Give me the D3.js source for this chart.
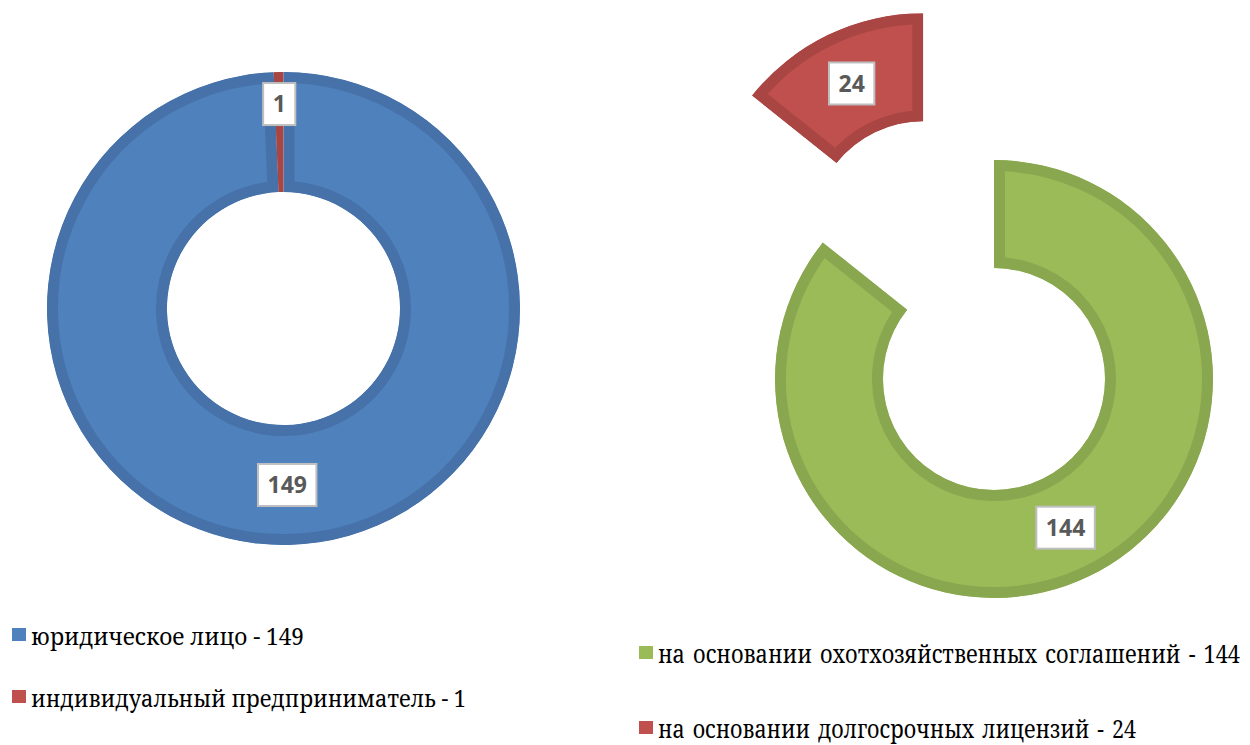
<!DOCTYPE html>
<html>
<head>
<meta charset="utf-8">
<script src="https://cdn.jsdelivr.net/npm/d3@7"></script>
<style>
  body { margin: 0; background: #ffffff; }
  svg { display: block; }
  .legend-text { font-family: "Noto Serif", "Tinos", "Times", serif; }
  .value-text { font-family: "Open Sans", sans-serif; font-weight: 700; }
</style>
</head>
<body>
<svg id="chart" width="1250" height="745"></svg>
<script>
// Hunting users by legal form
const leftCategories = ["юридическое лицо", "индивидуальный предприниматель"];
const leftValues = [149, 1];

// Hunting grounds by basis of use
const rightCategories = ["на основании охотхозяйственных соглашений", "на основании долгосрочных лицензий"];
const rightValues = [144, 24];

const palette = {
  blue:  { fill: "#4f81bd", edge: "#4672a9" },
  red:   { fill: "#c0504d", edge: "#a94643" },
  green: { fill: "#9bbb59", edge: "#89a74f" }
};

const svg = d3.select("#chart");
const defs = svg.append("defs");

function drawDonut(cfg) {
  const pie = d3.pie().sort(null).value(d => d.value)
    .startAngle(0).endAngle(2 * Math.PI);
  const items = cfg.values.map((v, i) => ({ value: v, name: cfg.categories[i], i }));
  const arcs = pie(items);
  const arc = d3.arc().innerRadius(cfg.inner).outerRadius(cfg.outer);
  const g = svg.append("g").attr("transform", `translate(${cfg.cx},${cfg.cy})`);

  // pull a slice out along its bisector
  const offsetOf = (a, i) => {
    const mid = (a.startAngle + a.endAngle) / 2;
    const off = cfg.explode[i] || 0;
    return [Math.sin(mid) * off, -Math.cos(mid) * off];
  };

  // slices: fill plus a border kept inside each slice's own outline
  arcs.forEach((a, i) => {
    const [dx, dy] = offsetOf(a, i);
    const d = arc(a);
    const id = `${cfg.id}-slice-${i}`;
    defs.append("clipPath").attr("id", id).append("path").attr("d", d);
    g.append("g")
      .attr("transform", `translate(${dx},${dy})`)
      .append("path")
      .attr("d", d)
      .attr("fill", cfg.colors[i].fill)
      .attr("stroke", cfg.colors[i].edge)
      .attr("stroke-width", cfg.border * 2)
      .attr("clip-path", `url(#${id})`);
  });

  // value labels in white boxes; thin slices get theirs near the outer rim
  arcs.forEach((a, i) => {
    const [dx, dy] = offsetOf(a, i);
    const span = a.endAngle - a.startAngle;
    const mid = (a.startAngle + a.endAngle) / 2;
    let px, py;
    if (span < 0.1) {
      const r = cfg.outer - 32;
      px = Math.sin(mid) * r; py = -Math.cos(mid) * r;
    } else {
      [px, py] = arc.centroid(a);
    }
    const lg = g.append("g").attr("transform", `translate(${px + dx},${py + dy})`);
    const rect = lg.append("rect");
    const t = lg.append("text")
      .attr("class", "value-text")
      .attr("text-anchor", "middle")
      .attr("dy", "0.36em")
      .attr("font-size", 23)
      .attr("fill", "#595959")
      .text(a.data.value);
    const w = t.node().getComputedTextLength() + 19;
    const h = 42;
    rect.attr("x", -w / 2).attr("y", -h / 2).attr("width", w).attr("height", h)
      .attr("fill", "#ffffff").attr("stroke", "#bfbfbf").attr("stroke-width", 2);
  });
}

drawDonut({
  id: "left", cx: 283.5, cy: 308.5, outer: 236.5, inner: 116.5, border: 11,
  categories: leftCategories, values: leftValues,
  colors: [palette.blue, palette.red], explode: [0, 0]
});

drawDonut({
  id: "right", cx: 994, cy: 379, outer: 219, inner: 111, border: 11,
  categories: rightCategories, values: rightValues,
  colors: [palette.green, palette.red], explode: [0, 163]
});

// legends below each chart
function drawLegend(entries) {
  entries.forEach(e => {
    svg.append("rect")
      .attr("x", e.x).attr("y", e.y - e.box - 3)
      .attr("width", e.box).attr("height", e.box - 1)
      .attr("fill", e.color);
    svg.append("text")
      .attr("class", "legend-text")
      .attr("x", e.x + e.box + 5).attr("y", e.y)
      .attr("font-size", e.size)
      .style("word-spacing", e.wordSpacing + "px")
      .attr("fill", "#000000")
      .attr("textLength", e.width)
      .attr("lengthAdjust", "spacingAndGlyphs")
      .text(e.label);
  });
}

drawLegend([
  { x: 12, y: 645, box: 14, size: 24, wordSpacing: 0, width: 273, color: palette.blue.fill,
    label: `${leftCategories[0]} - ${leftValues[0]}` },
  { x: 12, y: 707, box: 14, size: 24, wordSpacing: 0, width: 435, color: palette.red.fill,
    label: `${leftCategories[1]} - ${leftValues[1]}` },
  { x: 639, y: 663, box: 14, size: 26, wordSpacing: 3, width: 582, color: palette.green.fill,
    label: `${rightCategories[0]} - ${rightValues[0]}` },
  { x: 639, y: 738, box: 14, size: 26, wordSpacing: 3, width: 478, color: palette.red.fill,
    label: `${rightCategories[1]} - ${rightValues[1]}` }
]);
</script>
</body>
</html>
